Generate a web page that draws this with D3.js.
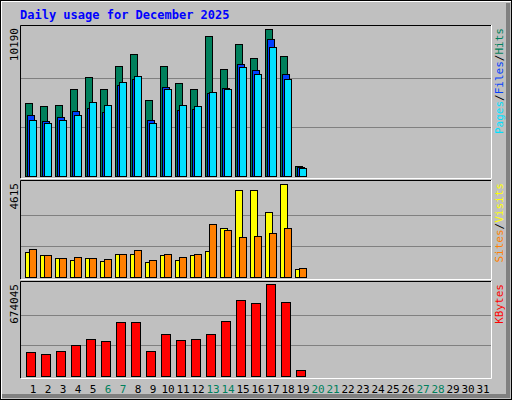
<!DOCTYPE html>
<html><head><meta charset="utf-8">
<script src="https://cdn.jsdelivr.net/npm/d3@7"></script>
<style>body{margin:0;background:#fff}</style>
</head><body>
<script>
// values, days 1..19 (rest of month empty)
var days = d3.range(1, 32);
var weekend = [6, 7, 13, 14, 20, 21, 27, 28];
var hits = [5040,4830,4900,6010,6840,6010,7600,8430,5250,7600,6420,6010,9680,7390,9130,8160,10190,8300,670];
var files = [4210,3790,4070,4480,4710,4440,6310,6720,3860,6150,4550,4640,5730,6080,7740,7330,9470,7050,645];
var pages = [3860,3650,3860,4210,5110,4900,6490,6910,3650,6010,4900,4830,5800,6010,7530,7050,8920,6700,530];
var visits = [1225,1075,928,828,928,779,1126,1126,729,1075,828,1075,1275,2415,4300,4300,3210,4615,382];
var sites = [1374,1075,928,977,928,878,1126,1324,828,1126,977,1126,2614,2316,1969,2019,2167,2415,431];
var kbytes = [179400,164700,186800,223700,268000,253300,393500,393500,186800,304900,260600,268000,304900,400900,555900,533800,674045,541200,46500];

var w = 512, h = 400;
var svg = d3.select('body').append('svg').attr('width', w).attr('height', h)
  .style('font-family', 'DejaVu Sans Mono, monospace');

svg.append('rect').attr('width', w).attr('height', h).attr('fill', '#c0c0c0');
// bevel
svg.append('path').attr('d', 'M1,399V1H511').attr('stroke', '#fff').attr('stroke-width', 2).attr('fill', 'none');
svg.append('path').attr('d', 'M2,396H508V3').attr('stroke', '#808080').attr('stroke-width', 4).attr('fill', 'none');
svg.append('rect').attr('width', w - 1).attr('height', h - 1).attr('x', 0.5).attr('y', 0.5)
  .attr('fill', 'none').attr('stroke', '#000');

svg.append('text').attr('x', 20).attr('y', 19).attr('fill', '#0000ff')
  .attr('font-size', 12).attr('font-weight', 'bold').text('Daily usage for December 2025');

var x = d3.scaleLinear().domain([1, 2]).range([25, 40]);

var panels = [
  {top: 25, bottom: 178, base: 176, max: 10190, scaleTop: 29,
   series: [[hits, '#00805c', 0, 8], [files, '#0040ff', 2, 8], [pages, '#00e0ff', 4, 8]],
   labels: [['Pages', '#00e0ff'], ['Files', '#0040ff'], ['Hits', '#00805c']]},
  {top: 180, bottom: 279, base: 277, max: 4615, scaleTop: 184,
   series: [[visits, '#ffff00', 0, 8], [sites, '#ff8000', 4, 8]],
   labels: [['Sites', '#ff8000'], ['Visits', '#ffff00']]},
  {top: 281, bottom: 378, base: 376, max: 674045, scaleTop: 284,
   series: [[kbytes, '#ff0000', 1, 10]],
   labels: [['KBytes', '#ff0000']]}
];

panels.forEach(function(p) {
  var y = d3.scaleLinear().domain([0, p.max]).range([p.base, p.scaleTop]);
  // frame: dark top/left, white bottom/right
  svg.append('path').attr('d', 'M20.5,' + p.bottom + 'V' + (p.top + 0.5) + 'H491')
    .attr('stroke', '#000').attr('fill', 'none');
  svg.append('path').attr('d', 'M21,' + (p.bottom + 0.5) + 'H491.5V' + p.top)
    .attr('stroke', '#fff').attr('fill', 'none');
  [1 / 3, 2 / 3].forEach(function(f) {
    var gy = Math.round(y(p.max * f)) + 0.5;
    svg.append('line').attr('x1', 21).attr('x2', 491).attr('y1', gy).attr('y2', gy)
      .attr('stroke', '#808080');
  });
  p.series.forEach(function(s) {
    svg.append('g').selectAll('rect').data(s[0]).enter().append('rect')
      .attr('x', function(d, i) { return x(i + 1) + s[2] + 0.5; })
      .attr('y', function(d) { return Math.round(y(d)) + 0.5; })
      .attr('width', s[3] - 1)
      .attr('height', function(d) { return Math.max(1, p.base - Math.round(y(d))); })
      .attr('fill', s[1]).attr('stroke', '#000');
  });
  // max label, rotated
  svg.append('text').attr('transform', 'translate(18,' + (p.top + 3) + ') rotate(-90)')
    .attr('text-anchor', 'end').attr('font-size', 11).attr('fill', '#000').text(p.max);
  // legend on right, reading bottom to top
  var t = svg.append('text').attr('transform', 'translate(503,' + (p.top + 3) + ') rotate(-90)')
    .attr('text-anchor', 'end').attr('font-size', 11);
  p.labels.forEach(function(l, i) {
    if (i > 0) t.append('tspan').attr('fill', '#000').text('/');
    t.append('tspan').attr('fill', l[1]).text(l[0]);
  });
});

svg.append('g').selectAll('text').data(days).enter().append('text')
  .attr('x', function(d) { return x(d) + 8; })
  .attr('y', 393).attr('text-anchor', 'middle').attr('font-size', 11)
  .attr('fill', function(d) { return weekend.indexOf(d) >= 0 ? '#00805c' : '#000'; })
  .text(function(d) { return d; });
</script>
</body></html>
